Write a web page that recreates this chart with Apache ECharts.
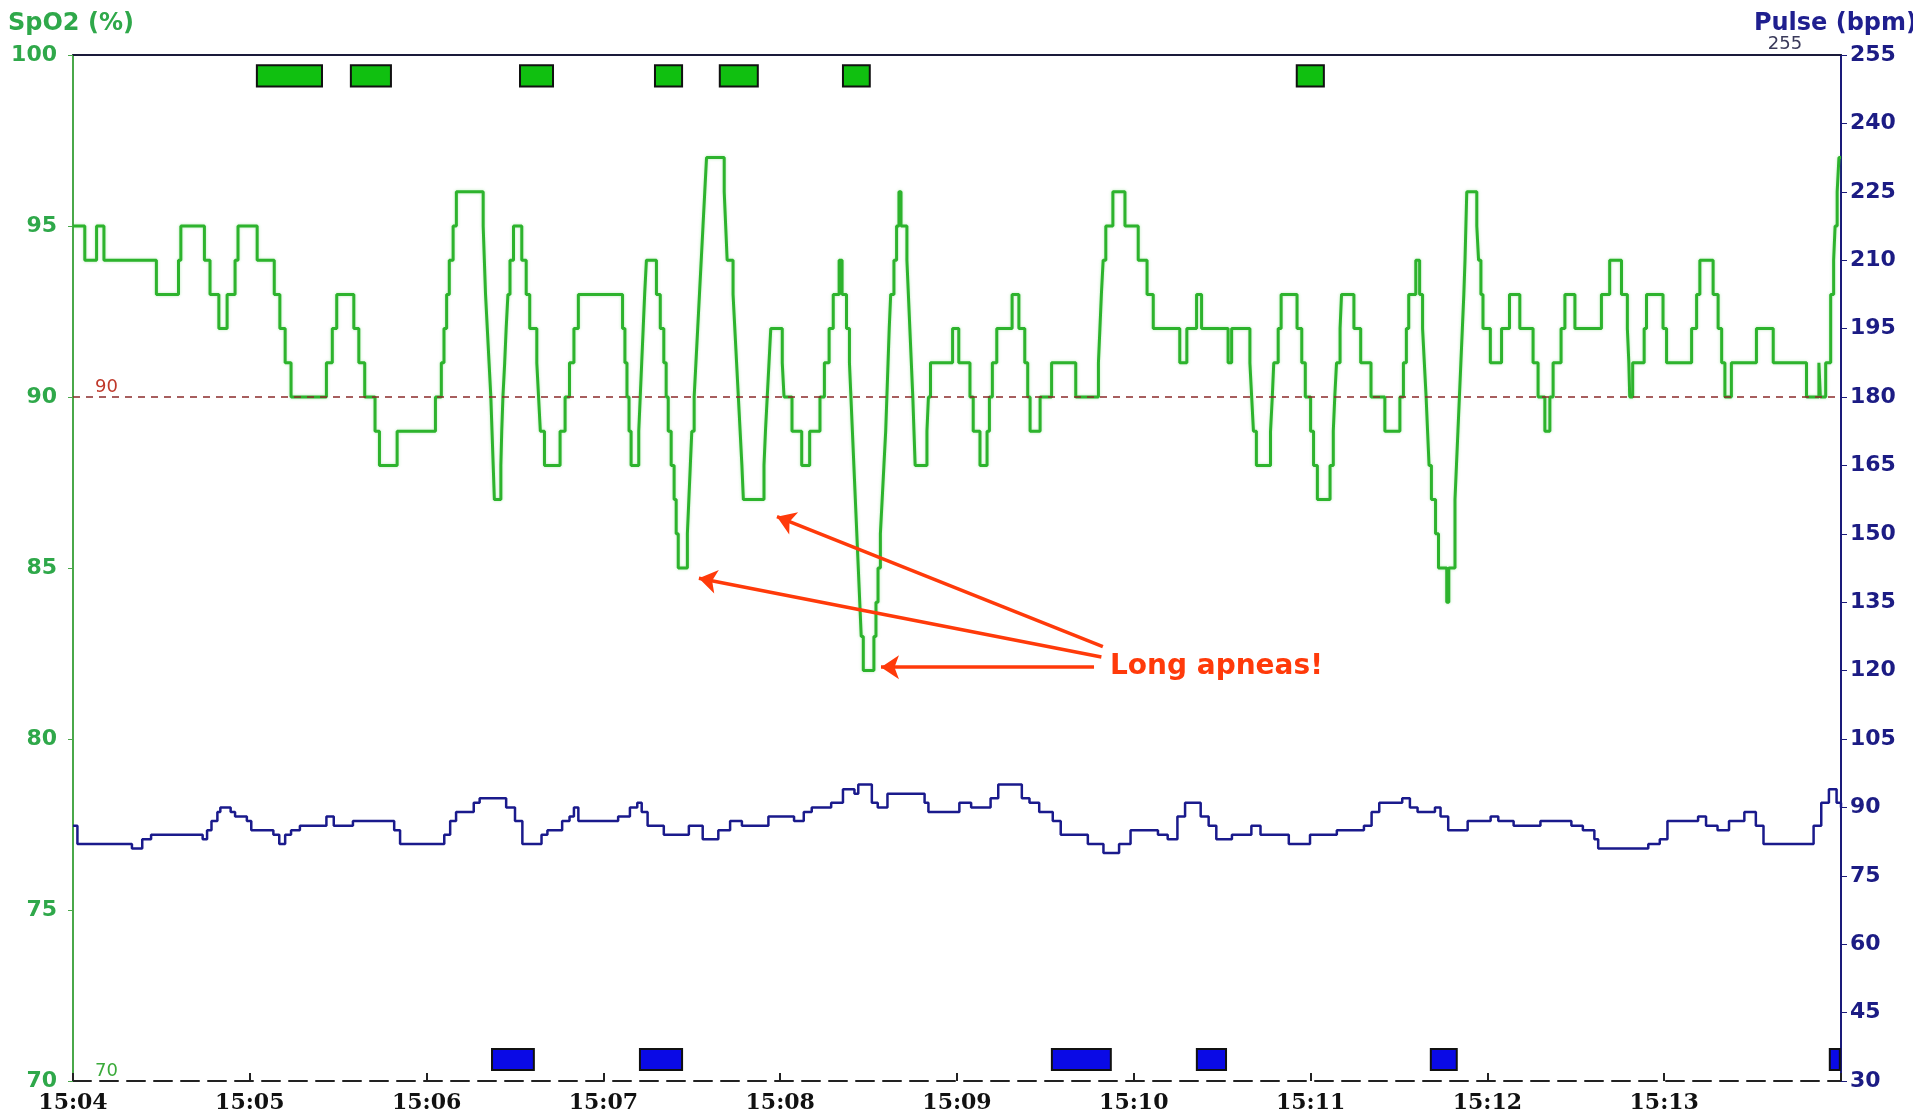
<!DOCTYPE html>
<html>
<head>
<meta charset="utf-8">
<script src="https://cdn.jsdelivr.net/npm/echarts@6/dist/echarts.min.js"></script>
<style>
html,body{margin:0;padding:0;background:#fff;}
#chart{width:1913px;height:1116px;}
</style>
</head>
<body>
<div id="chart"></div>
<script>
// ---- data (time in seconds after 15:04:00) ----
const timeLabels = ['15:04','15:05','15:06','15:07','15:08','15:09','15:10','15:11','15:12','15:13',''];
const spo2Ticks = [70, 75, 80, 85, 90, 95, 100];
const pulseTicks = [30, 45, 60, 75, 90, 105, 120, 135, 150, 165, 180, 195, 210, 225, 240, 255];

// SpO2 (%): [time s, value] — value holds until next point
const spo2Series = [[0,95],[4,94],[8,95],[10.5,94],[28.3,93],[35.8,94],[36.6,95],[44.6,94],[46.5,93],[49.5,92],[52.3,93],[55,94],[56,95],[62.5,94],[68.3,93],[70.2,92],[72,91],[74,90],[86,91],[88,92],[89.5,93],[95.3,92],[97,91],[99,90],[102.5,89],[104,88],[110,89],[123,90],[125,91],[125.9,92],[126.8,93],[127.7,94],[129,95],[130.1,96],[139.2,95],[139.6,94],[140,93],[140.6,92],[141.2,91],[141.8,90],[142.2,89],[142.6,88],[143,87],[145.2,88],[145.5,89],[145.9,90],[146.5,91],[147,92],[147.6,93],[148.3,94],[149.5,95],[152.3,94],[153.8,93],[155,92],[157.4,91],[158,90],[158.6,89],[160,88],[165.3,89],[167,90],[168.5,91],[170,92],[171.5,93],[186.5,92],[187.3,91],[188,90],[188.7,89],[189.4,88],[192,89],[192.5,90],[193,91],[193.5,92],[194,93],[194.6,94],[198,93],[199.3,92],[200.5,91],[201.3,90],[202,89],[203,88],[204,87],[204.7,86],[205.4,85],[208.5,86],[209,87],[209.5,88],[210,89],[210.8,90],[211.4,91],[212,92],[212.6,93],[213.2,94],[213.8,95],[214.4,96],[215,97],[221,96],[221.5,95],[222,94],[224,93],[224.6,92],[225.2,91],[225.8,90],[226.4,89],[227,88],[227.5,87],[234.5,88],[235,89],[235.6,90],[236.2,91],[236.8,92],[240.7,91],[241.3,90],[244,89],[247.3,88],[250,89],[253.5,90],[255,91],[256.6,92],[258,93],[260,94],[261,93],[262.5,92],[263.5,91],[264,90],[264.5,89],[265,88],[265.5,87],[266,86],[266.5,85],[267,84],[267.5,83],[268.2,82],[271.8,83],[272.5,84],[273.2,85],[274,86],[274.6,87],[275.2,88],[275.8,89],[276.2,90],[276.6,91],[277,92],[277.5,93],[278.6,94],[279.5,95],[280.3,96],[281,95],[283,94],[283.5,93],[284,92],[284.5,91],[285,90],[285.4,89],[285.8,88],[289.8,89],[290.3,90],[291,91],[298.5,92],[300.6,91],[304.4,90],[305.5,89],[307.8,88],[310.2,89],[311,90],[312,91],[313.5,92],[318.7,93],[321,92],[323,91],[324,90],[324.8,89],[328.2,90],[332.1,91],[340.3,90],[348,91],[348.5,92],[349,93],[349.6,94],[350.5,95],[352.9,96],[357,95],[361.5,94],[364.5,93],[366.6,92],[375.6,91],[378,92],[381.3,93],[383,92],[392,91],[393.2,92],[399.4,91],[400,90],[400.6,89],[401.6,88],[406.4,89],[407,90],[407.5,91],[409,92],[410,93],[415.4,92],[417,91],[418.2,90],[420,89],[421,88],[422.3,87],[426.6,88],[427.7,89],[428.2,90],[428.8,91],[430,92],[430.5,93],[434.7,92],[437,91],[440.5,90],[445.2,89],[450.3,90],[451.5,91],[452.5,92],[453.3,93],[455.7,94],[457,93],[458,92],[458.6,91],[459.2,90],[459.7,89],[460.2,88],[461,87],[462.4,86],[463.4,85],[466.2,84],[466.9,85],[469,87],[469.5,88],[470,89],[470.5,90],[471,91],[471.5,92],[472,93],[472.4,94],[472.7,95],[473,96],[476.4,95],[477,94],[477.8,93],[478.5,92],[481,91],[484.8,92],[487.5,93],[491,92],[495.5,91],[497.2,90],[499.5,89],[501.2,90],[502.3,91],[505,92],[506.3,93],[509.7,92],[518.7,93],[521.5,94],[525.5,93],[527.5,92],[528,91],[528.3,90],[529.3,91],[533.2,92],[534,93],[539.6,92],[540.8,91],[549.3,92],[551,93],[552.1,94],[556.6,93],[558.3,92],[559.5,91],[560.6,90],[562.8,91],[571.3,92],[577,91],[588.3,90],[592.5,91],[593,90],[594.8,91],[596.5,93],[597.5,94],[598,95],[598.7,96],[599.3,97],[600,97]];

// Pulse (bpm): [time s, value]
const pulseSeries = [[0,86],[1.5,82],[20,81],[23.5,83],[26.5,84],[44,83],[45.5,85],[47,87],[49,89],[50,90],[53.5,89],[55,88],[59,87],[60.5,85],[68,84],[70,82],[72,84],[74,85],[77,86],[86,88],[88.5,86],[95,87],[109,85],[111,82],[126,84],[128,87],[130,89],[136,91],[138,92],[147,90],[150,87],[152.5,82],[159,84],[161,85],[166,87],[168.5,88],[170,90],[171.5,87],[185,88],[189,90],[191.5,91],[193,89],[195,86],[200.5,84],[209,86],[213.7,83],[219,85],[223,87],[227,86],[236,88],[244.7,87],[248,89],[250.7,90],[257.3,91],[261.3,94],[265.2,93],[266.5,95],[271.1,91],[273.1,90],[276.4,93],[289,91],[290.3,89],[300.8,91],[304.8,90],[311.4,92],[314,95],[322,92],[324.6,91],[327.9,89],[332.5,87],[335.2,84],[344.4,82],[349.7,80],[355,82],[358.9,85],[368.2,84],[371.5,83],[374.8,88],[377.4,91],[382.7,88],[385.4,86],[388,83],[393.3,84],[399.9,86],[403,84],[412.6,82],[419.8,84],[428.9,85],[438.1,86],[440.7,89],[443.3,91],[451.1,92],[453.7,90],[456.3,89],[462.2,90],[464.1,88],[466.7,85],[473.3,87],[481.1,88],[483.7,87],[488.9,86],[498,87],[508.5,86],[512.4,85],[516.3,83],[517.6,81],[534.6,82],[538.5,83],[541.1,87],[551.5,88],[554.2,86],[558.1,85],[562,87],[567.2,89],[571.1,86],[573.7,82],[590.7,86],[593.3,91],[595.9,94],[598.5,91],[600,90]];

// Event markers: [start s, end s]
const desatEvents = [[62.4,84.5],[94.3,107.9],[151.7,162.9],[197.5,206.7],[219.5,232.4],[261.3,270.4],[415.3,424.5]];
const pulseEvents = [[142.2,156.4],[192.4,206.7],[332.2,352.2],[381.4,391.3],[460.8,469.6],[596.2,599.6]];

// Annotation: text anchor and arrows (tail -> tip) in data coords (s, SpO2)
const noteText = 'Long apneas!';
const noteAnchor = [351.9, 82.1];
const arrows = [
  [[349.5, 82.7], [238.9, 86.5]],
  [[349.0, 82.4], [212.4, 84.7]],
  [[346.5, 82.1], [274.2, 82.1]]
];
const thresholdLabels = {spo2: 90, spo2Min: 70, pulseMax: 255};

// ---- chart ----
const GREEN = '#2db32d';
const NAVY = '#1a1a8c';
const RED = '#ff3a0a';

const chart = echarts.init(document.getElementById('chart'), null, {renderer: 'canvas'});

function boxRender(color, yLo, yHi) {
  return function (params, api) {
    const a = api.coord([api.value(0), yHi]);
    const b = api.coord([api.value(1), yLo]);
    return {
      type: 'rect',
      shape: {x: a[0], y: a[1], width: b[0] - a[0], height: b[1] - a[1]},
      style: {fill: color, stroke: '#111', lineWidth: 2}
    };
  };
}

const option = {
  animation: false,
  backgroundColor: '#ffffff',
  title: [
    {text: 'SpO2 (%)', left: 3, top: 7,
     textStyle: {color: '#2fa84a', fontSize: 24, fontWeight: 'bold', fontFamily: 'DejaVu Sans'}},
    {text: 'Pulse (bpm)', right: -9, top: 7,
     textStyle: {color: '#1f1f8f', fontSize: 24, fontWeight: 'bold', fontFamily: 'DejaVu Sans'}}
  ],
  grid: {left: 73, right: 72, top: 55, bottom: 35, containLabel: false, outerBoundsMode: 'none'},
  xAxis: [
    {
      type: 'value', min: 0, max: 600, interval: 60, position: 'bottom',
      axisLine: {show: true, onZero: false, lineStyle: {color: '#222', width: 2, type: [18, 9]}},
      axisTick: {show: true, inside: true, length: 8, lineStyle: {color: '#222', width: 2}},
      axisLabel: {
        margin: 11, color: '#111', fontSize: 22, fontWeight: 'bold', fontFamily: 'DejaVu Serif',
        formatter: v => timeLabels[Math.round(v / 60)] || ''
      },
      splitLine: {show: false}
    },
    {
      type: 'value', min: 0, max: 600, position: 'top',
      axisLine: {show: true, onZero: false, lineStyle: {color: '#1a1a3a', width: 2}},
      axisTick: {show: false}, axisLabel: {show: false}, splitLine: {show: false}
    }
  ],
  yAxis: [
    {
      type: 'value', min: spo2Ticks[0], max: spo2Ticks[spo2Ticks.length - 1], interval: 5, position: 'left',
      axisLine: {show: true, onZero: false, lineStyle: {color: '#4aa84a', width: 2}},
      axisTick: {show: true, length: 5, lineStyle: {color: '#4aa84a'}},
      axisLabel: {margin: 16, color: '#2fa84a', fontSize: 22, fontWeight: 'bold', fontFamily: 'DejaVu Sans'},
      splitLine: {show: false}
    },
    {
      type: 'value', min: pulseTicks[0], max: pulseTicks[pulseTicks.length - 1], interval: 15, position: 'right',
      axisLine: {show: true, onZero: false, lineStyle: {color: '#1a1a7a', width: 2}},
      axisTick: {show: true, length: 6, lineStyle: {color: '#1a1a7a'}},
      axisLabel: {margin: 9, color: '#1c1c84', fontSize: 22, fontWeight: 'bold', fontFamily: 'DejaVu Sans'},
      splitLine: {show: false}
    }
  ],
  series: [
    {
      name: 'SpO2', type: 'line', xAxisIndex: 0, yAxisIndex: 0, step: 'end',
      data: spo2Series, showSymbol: false, symbol: 'none', z: 5,
      lineStyle: {color: GREEN, width: 3, shadowColor: 'rgba(60,200,60,0.35)', shadowBlur: 3},
      markLine: {
        silent: true, symbol: ['none', 'none'], symbolSize: 18, animation: false, z: 8,
        data: [
          {yAxis: thresholdLabels.spo2,
           lineStyle: {color: '#8b2a2a', type: [7, 6], width: 1.5},
           label: {show: true, position: 'insideStartTop', distance: [22, 1], formatter: '90',
                   color: '#c0392b', fontSize: 18, fontFamily: 'DejaVu Sans'}},
          {yAxis: thresholdLabels.spo2Min,
           lineStyle: {color: 'rgba(0,0,0,0)', width: 0},
           label: {show: true, position: 'insideStartTop', distance: [22, 1], formatter: '70',
                   color: '#3aaa3a', fontSize: 18, fontFamily: 'DejaVu Sans', opacity: 1}}
        ].concat(arrows.map(([s, e]) => [
          {coord: s, symbol: 'none', lineStyle: {color: RED, width: 3.5, type: 'solid'}, label: {show: false}},
          {coord: e, symbol: 'arrow', symbolSize: 18}
        ]))
      },
      markPoint: {
        silent: true, symbol: 'circle', symbolSize: 0, animation: false,
        data: [{coord: noteAnchor, value: noteText,
                label: {show: true, position: 'right', distance: 0, formatter: noteText,
                        color: RED, fontSize: 28, fontWeight: 'bold', fontFamily: 'DejaVu Sans'}}]
      }
    },
    {
      name: 'Pulse', type: 'line', xAxisIndex: 0, yAxisIndex: 1, step: 'end',
      data: pulseSeries, showSymbol: false, symbol: 'none', z: 4,
      lineStyle: {color: NAVY, width: 2.5},
      markPoint: {
        silent: true, symbol: 'circle', symbolSize: 0, animation: false,
        data: [{coord: [581, thresholdLabels.pulseMax], value: '255',
                label: {show: true, position: 'top', distance: 2, formatter: '255',
                        color: '#3a3a5a', fontSize: 18, fontFamily: 'DejaVu Sans'}}]
      }
    },
    {
      name: 'Desat events', type: 'custom', xAxisIndex: 0, yAxisIndex: 0,
      renderItem: boxRender('#10c010', 99.08, 99.7),
      encode: {x: [0, 1]}, data: desatEvents, z: 6, silent: true
    },
    {
      name: 'Pulse events', type: 'custom', xAxisIndex: 0, yAxisIndex: 1,
      renderItem: boxRender('#0a0ae6', 32.4, 37.0),
      encode: {x: [0, 1]}, data: pulseEvents, z: 6, silent: true
    }
  ]
};
chart.setOption(option);
</script>
</body>
</html>
